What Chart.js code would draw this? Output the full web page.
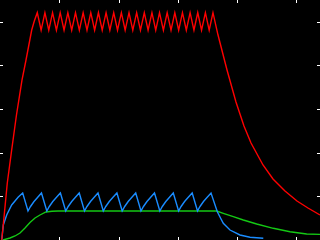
<!DOCTYPE html>
<html>
<head>
<meta charset="utf-8">
<script src="https://cdn.jsdelivr.net/npm/chart.js@4/dist/chart.umd.min.js"></script>
<style>
  html, body { margin: 0; padding: 0; background: #000; }
  #wrap { width: 320px; height: 240px; }
</style>
</head>
<body>
<div id="wrap"><canvas id="plot" width="320" height="240"></canvas></div>
<script>
// axis ranges and tick positions
const xMax = 5.4;
const yMax = 5.5;
const xTicks = [1, 2, 3, 4, 5];
const yTicks = [1, 2, 3, 4, 5];

// red trace
const redX = [0.029, 0.068, 0.123, 0.197, 0.278, 0.371, 0.439, 0.535, 0.579,
    0.629, 0.694, 0.758, 0.823, 0.887, 0.952, 1.016, 1.081, 1.145, 1.210, 1.274, 1.339,
    1.403, 1.468, 1.532, 1.597, 1.661, 1.725, 1.790, 1.854, 1.919, 1.983, 2.048, 2.112,
    2.177, 2.241, 2.306, 2.370, 2.435, 2.499, 2.564, 2.628, 2.692, 2.757, 2.821, 2.886,
    2.950, 3.015, 3.079, 3.144, 3.208, 3.273, 3.337, 3.401, 3.466, 3.530, 3.594,
    3.679, 3.831, 3.982, 4.117, 4.236, 4.438, 4.607, 4.809, 5.012, 5.197, 5.400];
const redY = [0, 0.527, 1.306, 2.062, 2.864, 3.666, 4.125, 4.812, 5.018,
    5.21, 4.81, 5.21, 4.81, 5.21, 4.81, 5.21, 4.81, 5.21, 4.81, 5.21, 4.81,
    5.21, 4.81, 5.21, 4.81, 5.21, 4.81, 5.21, 4.81, 5.21, 4.81, 5.21, 4.81,
    5.21, 4.81, 5.21, 4.81, 5.21, 4.81, 5.21, 4.81, 5.21, 4.81, 5.21, 4.81,
    5.21, 4.81, 5.21, 4.81, 5.21, 4.81, 5.21, 4.81, 5.21, 4.81, 5.21,
    4.697, 3.896, 3.162, 2.612, 2.223, 1.719, 1.398, 1.123, 0.894, 0.733, 0.573];

// blue trace
const blueX = [0.029, 0.056, 0.113, 0.197, 0.309, 0.383,
    0.4725, 0.515, 0.574, 0.633, 0.700,
    0.790, 0.832, 0.891, 0.950, 1.019,
    1.109, 1.151, 1.210, 1.269, 1.337,
    1.426, 1.468, 1.527, 1.586, 1.654,
    1.743, 1.785, 1.844, 1.903, 1.973,
    2.062, 2.104, 2.163, 2.222, 2.290,
    2.379, 2.421, 2.480, 2.539, 2.607,
    2.697, 2.739, 2.798, 2.857, 2.924,
    3.014, 3.056, 3.115, 3.174, 3.243,
    3.333, 3.375, 3.434, 3.493, 3.561,
    3.667, 3.768, 3.881, 4.050, 4.219, 4.443];
const blueY = [0, 0.344, 0.573, 0.802, 0.985, 1.077,
    0.665, 0.768, 0.882, 0.974, 1.077,
    0.665, 0.768, 0.882, 0.974, 1.077,
    0.665, 0.768, 0.882, 0.974, 1.077,
    0.665, 0.768, 0.882, 0.974, 1.077,
    0.665, 0.768, 0.882, 0.974, 1.077,
    0.665, 0.768, 0.882, 0.974, 1.077,
    0.665, 0.768, 0.882, 0.974, 1.077,
    0.665, 0.768, 0.882, 0.974, 1.077,
    0.665, 0.768, 0.882, 0.974, 1.077,
    0.665, 0.768, 0.882, 0.974, 1.077,
    0.648, 0.383, 0.229, 0.115, 0.062, 0.039];

// green trace
const greenX = [0.051, 0.169, 0.253, 0.338, 0.422, 0.506, 0.591, 0.675, 0.776, 0.877, 0.979,
    3.657, 3.768, 3.937, 4.106, 4.332, 4.612, 4.894, 5.175, 5.400];
const greenY = [0, 0.046, 0.092, 0.160, 0.275, 0.401, 0.504, 0.573, 0.642, 0.660, 0.665,
    0.665, 0.612, 0.534, 0.458, 0.367, 0.268, 0.190, 0.137, 0.130];

function pts(xs, ys) {
    return xs.map((x, i) => ({ x: x, y: ys[i] }));
}

// black face + inward tick marks on all four sides
const frame = {
    id: 'frame',
    beforeDraw(chart) {
        const c = chart.ctx;
        c.save();
        c.fillStyle = '#000';
        c.fillRect(0, 0, chart.width, chart.height);
        c.restore();
    },
    afterDraw(chart) {
        const c = chart.ctx, a = chart.chartArea;
        const sx = chart.scales.x, sy = chart.scales.y;
        c.save();
        c.strokeStyle = '#fff';
        c.lineWidth = 1;
        c.beginPath();
        xTicks.forEach(v => {
            const p = Math.round(sx.getPixelForValue(v)) + 0.5;
            c.moveTo(p, a.top); c.lineTo(p, a.top + 3);
            c.moveTo(p, a.bottom); c.lineTo(p, a.bottom - 3);
        });
        yTicks.forEach(v => {
            const p = Math.round(sy.getPixelForValue(v)) + 0.5;
            c.moveTo(a.left, p); c.lineTo(a.left + 3, p);
            c.moveTo(a.right, p); c.lineTo(a.right - 3, p);
        });
        c.stroke();
        c.restore();
    }
};

new Chart(document.getElementById('plot').getContext('2d'), {
    type: 'line',
    data: {
        datasets: [
            { data: pts(redX, redY), borderColor: '#ff0000' },
            { data: pts(blueX, blueY), borderColor: '#1a8cff' },
            { data: pts(greenX, greenY), borderColor: '#14c814' }
        ]
    },
    options: {
        responsive: false,
        animation: false,
        layout: { padding: 0 },
        elements: { point: { radius: 0 }, line: { borderWidth: 1.4, tension: 0 } },
        plugins: { legend: { display: false }, tooltip: { enabled: false } },
        scales: {
            x: { type: 'linear', min: 0, max: xMax, display: false },
            y: { type: 'linear', min: 0, max: yMax, display: false }
        }
    },
    plugins: [frame]
});
</script>
</body>
</html>
